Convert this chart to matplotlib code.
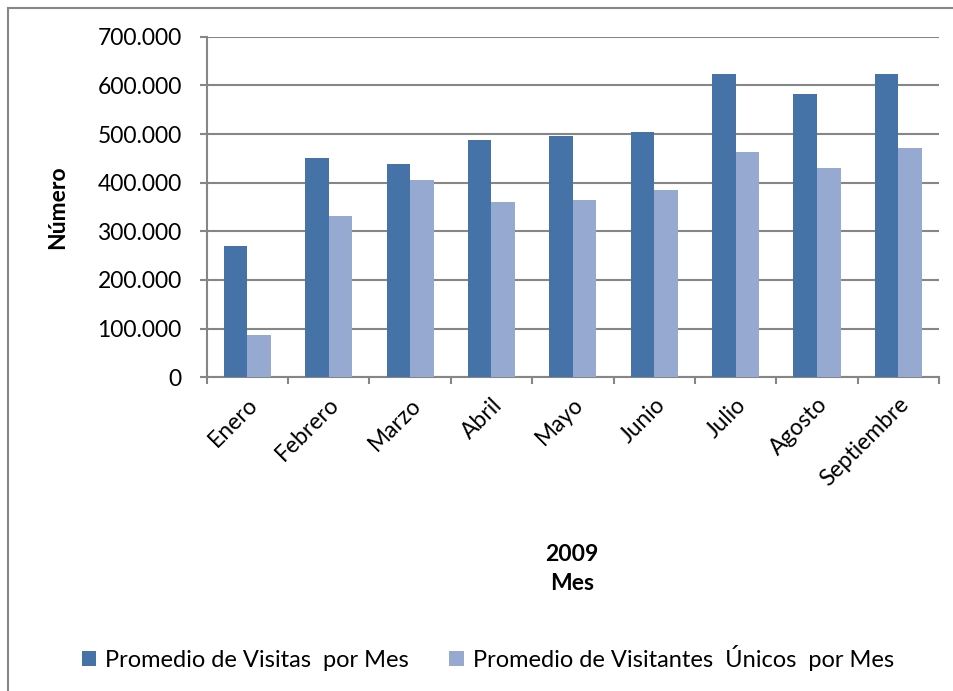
import numpy as np
import matplotlib.pyplot as plt
from matplotlib.ticker import FuncFormatter
from matplotlib.patches import Rectangle

meses = ["Enero", "Febrero", "Marzo", "Abril", "Mayo", "Junio", "Julio", "Agosto", "Septiembre"]
visitas = [270500, 451000, 438000, 488000, 496000, 504000, 624000, 583000, 624000]
unicos = [86300, 332000, 406000, 361000, 364000, 385000, 463000, 431000, 471000]

plt.rcParams['font.family'] = ['Lato', 'DejaVu Sans']
grid_col = '#868686'
fs = 16.5

W, H = 954, 691
fig = plt.figure(figsize=(W/100, H/100), dpi=100)
ax = fig.add_axes([206.7/W, 1 - 377.3/H, (939 - 206.7)/W, (377.3 - 36.7)/H])

x = np.arange(len(meses))
w = 0.29
ax.bar(x - w/2, visitas, w, color='#4572A7', label='Promedio de Visitas  por Mes', zorder=3)
ax.bar(x + w/2, unicos, w, color='#95A9D1', label='Promedio de Visitantes  Únicos  por Mes', zorder=3)

ax.set_xlim(-0.5, len(meses) - 0.5)
ax.set_ylim(0, 700000)
ax.set_yticks(np.arange(0, 700001, 100000))
ax.yaxis.set_major_formatter(FuncFormatter(lambda v, p: '0' if v == 0 else f'{int(v):,}'.replace(',', '.')))
ax.grid(axis='y', color=grid_col, linewidth=1.5, zorder=0)

ax.set_xticks(x)
ax.set_xticklabels(meses, rotation=45, ha='right', rotation_mode='anchor', fontsize=fs)
ax.set_xticks(np.arange(-0.5, len(meses)), minor=True)
ax.tick_params(axis='x', which='major', length=0, pad=12)
ax.tick_params(axis='x', which='minor', length=5, color=grid_col, width=1.5, direction='out')
ax.tick_params(axis='y', length=5, color=grid_col, width=1.5, labelsize=fs, pad=13)

for s in ['top', 'right']:
    ax.spines[s].set_visible(False)
for s in ['left', 'bottom']:
    ax.spines[s].set_color(grid_col)
    ax.spines[s].set_linewidth(1.5)

ax.set_ylabel('Número', fontsize=fs, fontweight='bold')
ax.yaxis.set_label_coords((68 - 206.7) / (939 - 206.7), 0.5)
fig.text(572/W, 1 - 569/H, '2009\nMes', ha='center', va='center', fontsize=fs,
         fontweight='bold', linespacing=1.45)

fig.legend(loc='center', bbox_to_anchor=(488/W, 1 - 658/H), ncol=2, frameon=False,
           fontsize=17, handlelength=0.6, handleheight=0.6, handletextpad=0.4, columnspacing=1.7)

fig.patches.append(Rectangle((8/W, -0.05), 1.1, 1 - 8/H + 0.05, transform=fig.transFigure,
                             fill=False, edgecolor=grid_col, linewidth=1.5))

fig.savefig('out.png', dpi=100)
